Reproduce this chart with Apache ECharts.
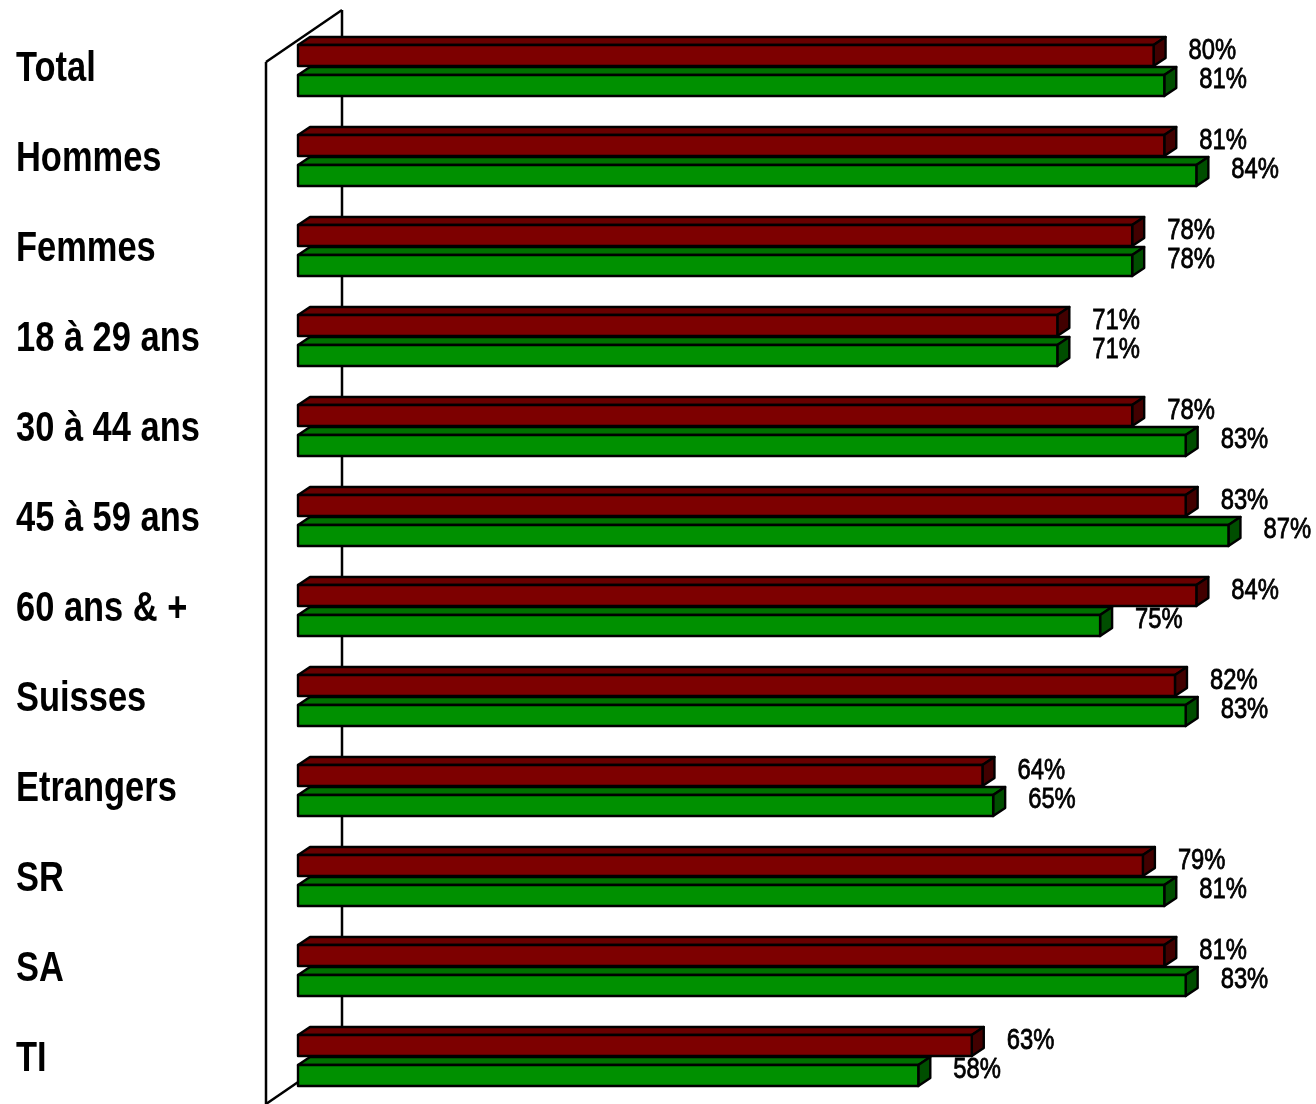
<!DOCTYPE html>
<html>
<head>
<meta charset="utf-8">
<script src="https://cdn.jsdelivr.net/npm/echarts@6/dist/echarts.min.js"></script>
<style>
html,body{margin:0;padding:0;background:#fff;}
#chart{width:1316px;height:1104px;}
</style>
</head>
<body>
<div id="chart"></div>
<script>
const categories = ['Total','Hommes','Femmes','18 à 29 ans','30 à 44 ans','45 à 59 ans','60 ans & +','Suisses','Etrangers','SR','SA','TI'];
const seriesRed = [80,81,78,71,78,83,84,82,64,79,81,63];
const seriesGreen = [81,84,78,71,83,87,75,83,65,81,83,58];

const FONT = "'Liberation Sans', Arial, sans-serif";
const NARROW = 0.82;

function barRenderer(colors, offset, labelOff) {
  return function (params, api) {
    const idx = api.value(1);
    const val = api.value(0);
    const p0 = api.coord([0, idx]);
    const p1 = api.coord([val, idx]);
    const band = api.size([0, 1])[1];
    const s = band / 90;
    const cy = p0[1];
    const x0 = p0[0], x1 = p1[0];
    const top = cy + offset * s;
    const h = 21 * s;
    const dx = 12 * s, dy = -8 * s;
    const line = {stroke: '#000', lineWidth: 2.4, lineJoin: 'round'};
    return {
      type: 'group',
      children: [
        {type: 'polygon', shape: {points: [[x0, top], [x0 + dx, top + dy], [x1 + dx, top + dy], [x1, top]]},
          style: Object.assign({fill: colors[1]}, line)},
        {type: 'polygon', shape: {points: [[x1, top], [x1 + dx, top + dy], [x1 + dx, top + h + dy], [x1, top + h]]},
          style: Object.assign({fill: colors[2]}, line)},
        {type: 'rect', shape: {x: x0, y: top, width: x1 - x0, height: h},
          style: Object.assign({fill: colors[0]}, line)},
        {type: 'text', x: x1 + 35 * s, y: cy + labelOff * s, scaleX: NARROW,
          style: {text: val + '%', x: 0, y: 0,
          fill: '#000', stroke: '#000', lineWidth: 0.8, fontSize: 29, fontFamily: FONT, fontWeight: 'normal',
          align: 'left', verticalAlign: 'middle'}}
      ]
    };
  };
}

function labelRenderer(params, api) {
  const idx = api.value(1);
  const p = api.coord([0, idx]);
  const cs = params.coordSys;
  return {
    type: 'text', x: cs.x - 282, y: p[1] + 2, scaleX: NARROW,
    style: {text: categories[idx], x: 0, y: 0, fill: '#000', fontSize: 42,
      fontFamily: FONT, fontWeight: 'bold', align: 'left', verticalAlign: 'middle'}
  };
}

function wallRenderer(params, api) {
  const cs = params.coordSys;
  const x0 = cs.x, top = cs.y, bottom = cs.y + cs.height;
  const fx = x0 - 32, bx = x0 + 44;
  const st = {stroke: '#000', lineWidth: 2.5, fill: null};
  return {
    type: 'group',
    children: [
      {type: 'line', shape: {x1: fx, y1: top + 40, x2: fx, y2: bottom + 10}, style: st},
      {type: 'line', shape: {x1: bx, y1: top - 12, x2: bx, y2: bottom - 50}, style: st},
      {type: 'line', shape: {x1: fx, y1: top + 40, x2: bx, y2: top - 12}, style: st},
      {type: 'line', shape: {x1: fx, y1: bottom + 2, x2: bx, y2: bottom - 50}, style: st}
    ]
  };
}

const chart = echarts.init(document.getElementById('chart'));
chart.setOption({
  backgroundColor: '#ffffff',
  animation: false,
  grid: {left: 298, top: 22, width: 1016, height: 1080},
  xAxis: {type: 'value', min: 0, max: 95, show: false},
  yAxis: {
    type: 'category', data: categories, inverse: true,
    axisLine: {show: false}, axisTick: {show: false}, splitLine: {show: false},
    axisLabel: {show: false}
  },
  series: [
    {type: 'custom', name: 'wall', renderItem: wallRenderer, data: [[0, 0]], encode: {x: 0, y: 1}, z: 1, silent: true},
    {type: 'custom', name: 'labels', renderItem: labelRenderer, data: categories.map((c, i) => [0, i]), encode: {x: 0, y: 1}, z: 1, silent: true},
    {type: 'custom', name: 'A', renderItem: barRenderer(['#7d0000', '#680000', '#420000'], -22, -16.5),
      data: seriesRed.map((v, i) => [v, i]), encode: {x: 0, y: 1}, z: 2},
    {type: 'custom', name: 'B', renderItem: barRenderer(['#009000', '#007000', '#004e00'], 8, 13),
      data: seriesGreen.map((v, i) => [v, i]), encode: {x: 0, y: 1}, z: 3}
  ]
});
</script>
</body>
</html>
